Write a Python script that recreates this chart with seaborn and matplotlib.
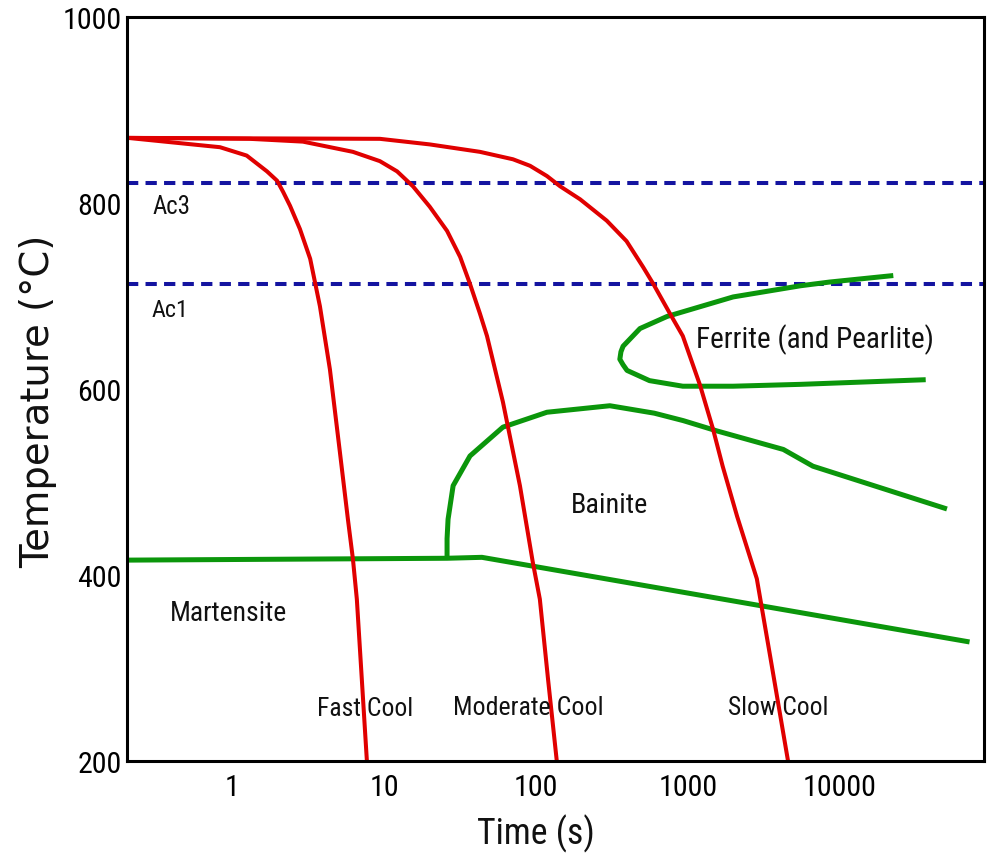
import os
import numpy as np
import pandas as pd
import matplotlib
matplotlib.use("Agg")
import matplotlib.pyplot as plt
from matplotlib import font_manager as fm
import seaborn as sns

# ---------------- data ----------------
fast_t = [0.207, 0.834, 1.25, 1.70, 1.98, 2.17, 2.41, 2.80, 3.27, 3.79, 4.41, 5.13, 5.79, 6.25, 6.63, 7.72]
fast_T = [870, 860, 851, 834, 824, 812, 797, 772, 740, 689, 621, 532, 460, 417, 374, 200]

mod_t = [0.207, 1.31, 2.93, 6.25, 9.40, 12.2, 15.5, 20.0, 26.0, 31.7, 36.8, 42.8, 47.6, 60.6, 78.4, 95.2, 106, 120, 137]
mod_T = [870, 869, 866, 855, 845, 834, 818, 796, 770, 742, 713, 681, 657, 586, 496, 414, 374, 288, 200]

slow_t = [0.207, 9.40, 20.0, 42.8, 70.6, 91.4, 118, 144, 195, 292, 394, 507, 591, 761, 924, 1030, 1200,
          1460, 1690, 2104, 2835, 3467, 4548]
slow_T = [870, 869, 863, 855, 847, 840, 829, 818, 804, 781, 759, 731, 713, 681, 657, 635, 604,
          557, 517, 463, 396, 313, 200]

ms_t = [0.207, 26.0, 44.1, 71100]
ms_T = [416, 418, 419, 328]

bain_t = [26.0, 26.0, 26.4, 28.5, 36.8, 60.6, 118, 306, 600, 930, 1544, 4237, 6630, 50500]
bain_T = [419, 439, 460, 496, 528, 559, 575, 582, 574, 566, 555, 535, 517, 471]

ferr_t = [22400, 8530, 5490, 1980, 728, 483, 374, 362, 356, 374, 397, 558, 924, 1980, 5490, 36600]
ferr_T = [722, 715, 711, 699, 678, 665, 646, 640, 632, 626, 620, 609, 603, 603, 605, 610]

ac3_T = 821.5
ac1_T = 713
x_range = [0.204, 88500]

x_ticks = [1, 10, 100, 1000, 10000]
x_tick_labels = ["1", "10", "100", "1000", "10000"]
y_ticks = [200, 400, 600, 800, 1000]

labels = [
    ("Ac3", 0.298, 797, "left"),
    ("Ac1", 0.298, 686, "left"),
    ("Ferrite (and Pearlite)", 6790, 654, "center"),
    ("Bainite", 306, 476, "center"),
    ("Martensite", 0.955, 360, "center"),
    ("Fast Cool", 7.5, 257, "center"),
    ("Moderate Cool", 88.6, 258, "center"),
    ("Slow Cool", 3900, 258, "center"),
]
# target widths of the texts in the reference (pixels)
label_px = [38, 37, 238, 77, 118, 96, 150, 100]

# ---------------- style ----------------
sns.set_style("white")

cands = []
for f in fm.fontManager.ttflist:
    b = os.path.basename(f.fname)
    bl = b.lower()
    if ("narrow" in bl or "condensed" in bl) and not any(s in bl for s in ["bold", "italic", "light", "thin", "black", "medium", "semi", "extra", "oblique"]):
        cands.append((b, f.fname))
pref = ["liberationsansnarrow-regular", "arialn", "robotocondensed-regular", "notosans-condensed.",
        "opensans_condensed-regular", "opensans-condensed", "dejavusanscondensed."]
chosen = None
for p in pref:
    for b, fn in cands:
        if b.lower().startswith(p):
            chosen = fn
            break
    if chosen:
        break
if chosen:
    fm.fontManager.addfont(chosen)
    fam = fm.FontProperties(fname=chosen).get_name()
else:
    fam = "Liberation Sans"
plt.rcParams["font.family"] = [fam, "DejaVu Sans"]

RED = "#e00000"
GREEN = "#0b960b"
BLUE = "#1414a0"

fig = plt.figure(figsize=(9.89, 8.62), dpi=100)
ax = fig.add_axes([127 / 989, 1 - 762 / 862, 857 / 989, 744 / 862])

def line(t, T, color, lw):
    df = pd.DataFrame({"t": t, "T": T})
    sns.lineplot(data=df, x="t", y="T", sort=False, estimator=None, ax=ax,
                 color=color, lw=lw, solid_capstyle="butt", solid_joinstyle="round")

for T in (ac3_T, ac1_T):
    df = pd.DataFrame({"t": x_range, "T": [T, T]})
    sns.lineplot(data=df, x="t", y="T", sort=False, estimator=None, ax=ax,
                 color=BLUE, lw=2.9)
    ax.lines[-1].set_dashes((2.8, 1.8))

line(ms_t, ms_T, GREEN, 3.6)
line(bain_t, bain_T, GREEN, 3.6)
line(ferr_t, ferr_T, GREEN, 3.6)
line(fast_t, fast_T, RED, 2.9)
line(mod_t, mod_T, RED, 2.9)
line(slow_t, slow_T, RED, 2.9)

ax.set_xscale("log")
ax.set_xlim(*x_range)
ax.set_ylim(200, 1000)
ax.set_xticks(x_ticks)
ax.set_xticklabels(x_tick_labels)
ax.minorticks_off()
ax.set_yticks(y_ticks)
ax.tick_params(direction="in", length=7, width=2, labelsize=20, colors="black",
               top=False, right=False)
ax.tick_params(axis="x", pad=9)
ax.tick_params(axis="y", pad=4)
for s in ax.spines.values():
    s.set_visible(True)
    s.set_linewidth(2.2)
    s.set_color("black")

xl = ax.set_xlabel("Time (s)", fontsize=24, color="#111111", va="center")
ax.xaxis.set_label_coords((536 - 127) / 857, (762 - 834) / 744)
yl = ax.set_ylabel("Temperature (°C)", fontsize=24, color="#111111", va="center",
                   family=["DejaVu Sans"])
ax.yaxis.set_label_coords((38 - 127) / 857, (762 - 401) / 744)

texts = []
for txt, x, y, ha in labels:
    texts.append(ax.text(x, y, txt, ha=ha, va="center", fontsize=18, color="#111111"))

# fit text sizes to the widths measured in the reference
fig.canvas.draw()
r = fig.canvas.get_renderer()
for t, px in zip(texts, label_px):
    w = t.get_window_extent(r).width
    t.set_fontsize(t.get_fontsize() * px / w)
w = xl.get_window_extent(r).width
xl.set_fontsize(xl.get_fontsize() * 118 / w)
h = yl.get_window_extent(r).height
yl.set_fontsize(yl.get_fontsize() * 334 / h)
lab = [l for l in ax.get_xticklabels() if l.get_text() == "10000"][0]
w = lab.get_window_extent(r).width
ax.tick_params(labelsize=20 * 74 / w)

fig.savefig("out.png", dpi=100, facecolor="white")
